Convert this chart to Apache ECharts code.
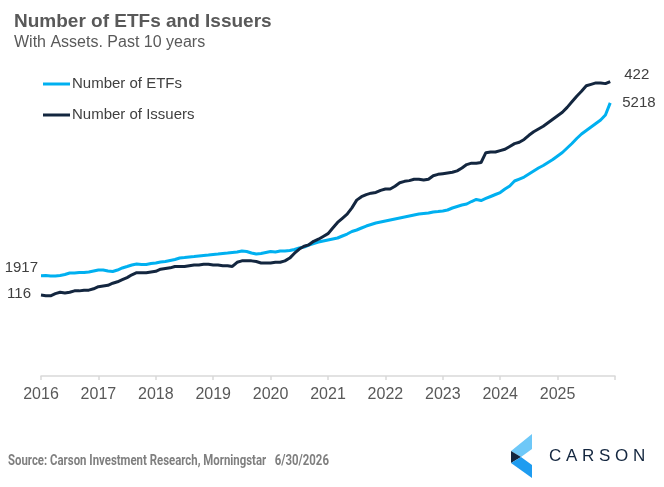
<!DOCTYPE html>
<html>
<head>
<meta charset="utf-8">
<title>Number of ETFs and Issuers</title>
<script src="https://cdn.jsdelivr.net/npm/echarts@6/dist/echarts.min.js"></script>
<style>
    html, body { margin: 0; padding: 0; background: #fff; }
    #chartBox { width: 664px; height: 487px; }
</style>
</head>
<body>
<div id="chartBox"></div>
<script>
// monthly, Jan 2016 .. Dec 2025
var startYear = 2016;
var yearTicks = [2016, 2017, 2018, 2019, 2020, 2021, 2022, 2023, 2024, 2025];

var etfs = [
    1917, 1920, 1911, 1911, 1920, 1939, 1968, 1968, 1978, 1978, 1987, 2006,
    2025, 2025, 2006, 1997, 2025, 2064, 2092, 2121, 2140, 2131, 2131, 2150,
    2159, 2178, 2188, 2207, 2226, 2255, 2264, 2274, 2283, 2293, 2303, 2312,
    2322, 2331, 2341, 2350, 2360, 2369, 2389, 2379, 2350, 2331, 2341, 2360,
    2379, 2369, 2389, 2389, 2398, 2417, 2446, 2465, 2503, 2532, 2560, 2580,
    2599, 2618, 2637, 2675, 2713, 2761, 2790, 2828, 2866, 2895, 2924, 2943,
    2962, 2981, 3000, 3019, 3038, 3057, 3076, 3095, 3105, 3115, 3134, 3143,
    3153, 3172, 3210, 3239, 3267, 3287, 3334, 3373, 3353, 3392, 3430, 3468,
    3506, 3573, 3631, 3726, 3764, 3802, 3860, 3917, 3974, 4022, 4080, 4137,
    4204, 4271, 4357, 4443, 4538, 4624, 4691, 4758, 4825, 4892, 4987, 5218
];

var issuers = [
    116, 115, 115, 118, 120, 119, 120, 122, 122, 123, 123, 125,
    128, 129, 130, 133, 135, 138, 141, 145, 148, 148, 148, 149,
    150, 153, 154, 155, 157, 157, 157, 158, 159, 159, 160, 160,
    159, 159, 158, 158, 157, 163, 165, 165, 165, 164, 162, 162,
    162, 163, 163, 165, 169, 176, 182, 186, 188, 193, 196, 200,
    204, 212, 220, 226, 232, 241, 252, 257, 260, 262, 263, 266,
    268, 268, 272, 277, 279, 280, 282, 282, 281, 282, 287, 289,
    290, 291, 292, 294, 298, 303, 305, 305, 306, 320, 321, 321,
    323, 325, 329, 333, 335, 339, 345, 350, 354, 358, 363, 368,
    373, 378, 385, 393, 401, 408, 416, 418, 420, 420, 419, 422
];

var seriesNames = ['Number of ETFs', 'Number of Issuers'];
var colors = ['#00B0F0', '#13263F'];

function toPairs(list) {
    var out = [];
    for (var i = 0; i < list.length; i++) {
        out.push([startYear + i / 12, list[i]]);
    }
    return out;
}

// first / last value written beside the line ends
function edgeLabels(list, leftDist, leftOff, rightDist, rightOff) {
    var n = list.length - 1;
    return {
        symbol: 'circle',
        symbolSize: 0,
        silent: true,
        label: {
            show: true,
            formatter: '{c}',
            fontSize: 15,
            color: '#404040',
            fontFamily: 'Liberation Sans, Arial, sans-serif'
        },
        data: [
            {coord: [startYear, list[0]], value: list[0],
                label: {position: 'left', distance: leftDist, offset: leftOff}},
            {coord: [startYear + n / 12, list[n]], value: list[n],
                label: {position: 'right', distance: rightDist, offset: rightOff}}
        ]
    };
}

var myChart1 = echarts.init(document.getElementById('chartBox'));
var option = {
    animation: false,
    color: colors,
    textStyle: {fontFamily: 'Liberation Sans, Arial, sans-serif'},
    title: {
        text: 'Number of ETFs and Issuers',
        subtext: 'With Assets. Past 10 years',
        left: 14,
        top: 12,
        padding: 0,
        itemGap: 4,
        textStyle: {fontSize: 19, fontWeight: 'bold', color: '#595959'},
        subtextStyle: {fontSize: 16, color: '#595959'}
    },
    legend: {
        data: seriesNames,
        orient: 'vertical',
        left: 43,
        top: 76,
        padding: 0,
        itemGap: 15,
        icon: 'rect',
        itemWidth: 27,
        itemHeight: 3,
        textStyle: {fontSize: 15, color: '#404040', lineHeight: 16, padding: [0, 0, 0, -3]}
    },
    grid: {left: 41, right: 49, top: 62, bottom: 111},
    xAxis: {
        type: 'value',
        min: 2016,
        max: 2026,
        interval: 1,
        axisLine: {lineStyle: {color: '#D9D9D9', width: 1.5}},
        axisTick: {show: true, length: 4, lineStyle: {color: '#D9D9D9', width: 1.5}},
        splitLine: {show: false},
        axisLabel: {
            fontSize: 16,
            color: '#595959',
            margin: 11,
            formatter: function (v) {
                return yearTicks.indexOf(v) >= 0 ? String(v) : '';
            }
        }
    },
    yAxis: [
        {type: 'value', min: 0, max: 6000, show: false},
        {type: 'value', min: 0, max: 450, show: false}
    ],
    series: [
        {
            name: seriesNames[0],
            type: 'line',
            yAxisIndex: 0,
            showSymbol: false,
            data: toPairs(etfs),
            lineStyle: {width: 3, color: colors[0]},
            markPoint: edgeLabels(etfs, 3, [0, -8], 12, [0, 0])
        },
        {
            name: seriesNames[1],
            type: 'line',
            yAxisIndex: 1,
            showSymbol: false,
            data: toPairs(issuers),
            lineStyle: {width: 3, color: colors[1]},
            markPoint: edgeLabels(issuers, 10, [0, -1], 14, [0, -7])
        }
    ],
    graphic: [
        {
            type: 'text',
            x: 8,
            y: 454,
            scaleX: 0.76,
            style: {
                text: 'Source: Carson Investment Research, Morningstar   6/30/2026',
                font: 'bold 15px Roboto, "Liberation Sans", sans-serif',
                fill: '#7F7F7F'
            }
        },
        // logo mark
        {type: 'polygon', shape: {points: [[532, 434], [532, 449], [521, 457], [511, 451]]}, style: {fill: '#6EC8F8'}},
        {type: 'polygon', shape: {points: [[511, 451], [521, 457], [511, 463]]}, style: {fill: '#13263F'}},
        {type: 'polygon', shape: {points: [[511, 463], [521, 457], [532, 465], [532, 478]]}, style: {fill: '#1E9CF0'}},
        {
            type: 'text',
            left: 549,
            top: 448,
            style: {
                text: 'C A R S O N',
                font: '17px "Liberation Sans", Arial, sans-serif',
                fill: '#13263F'
            }
        }
    ]
};
myChart1.setOption(option);
</script>
</body>
</html>
